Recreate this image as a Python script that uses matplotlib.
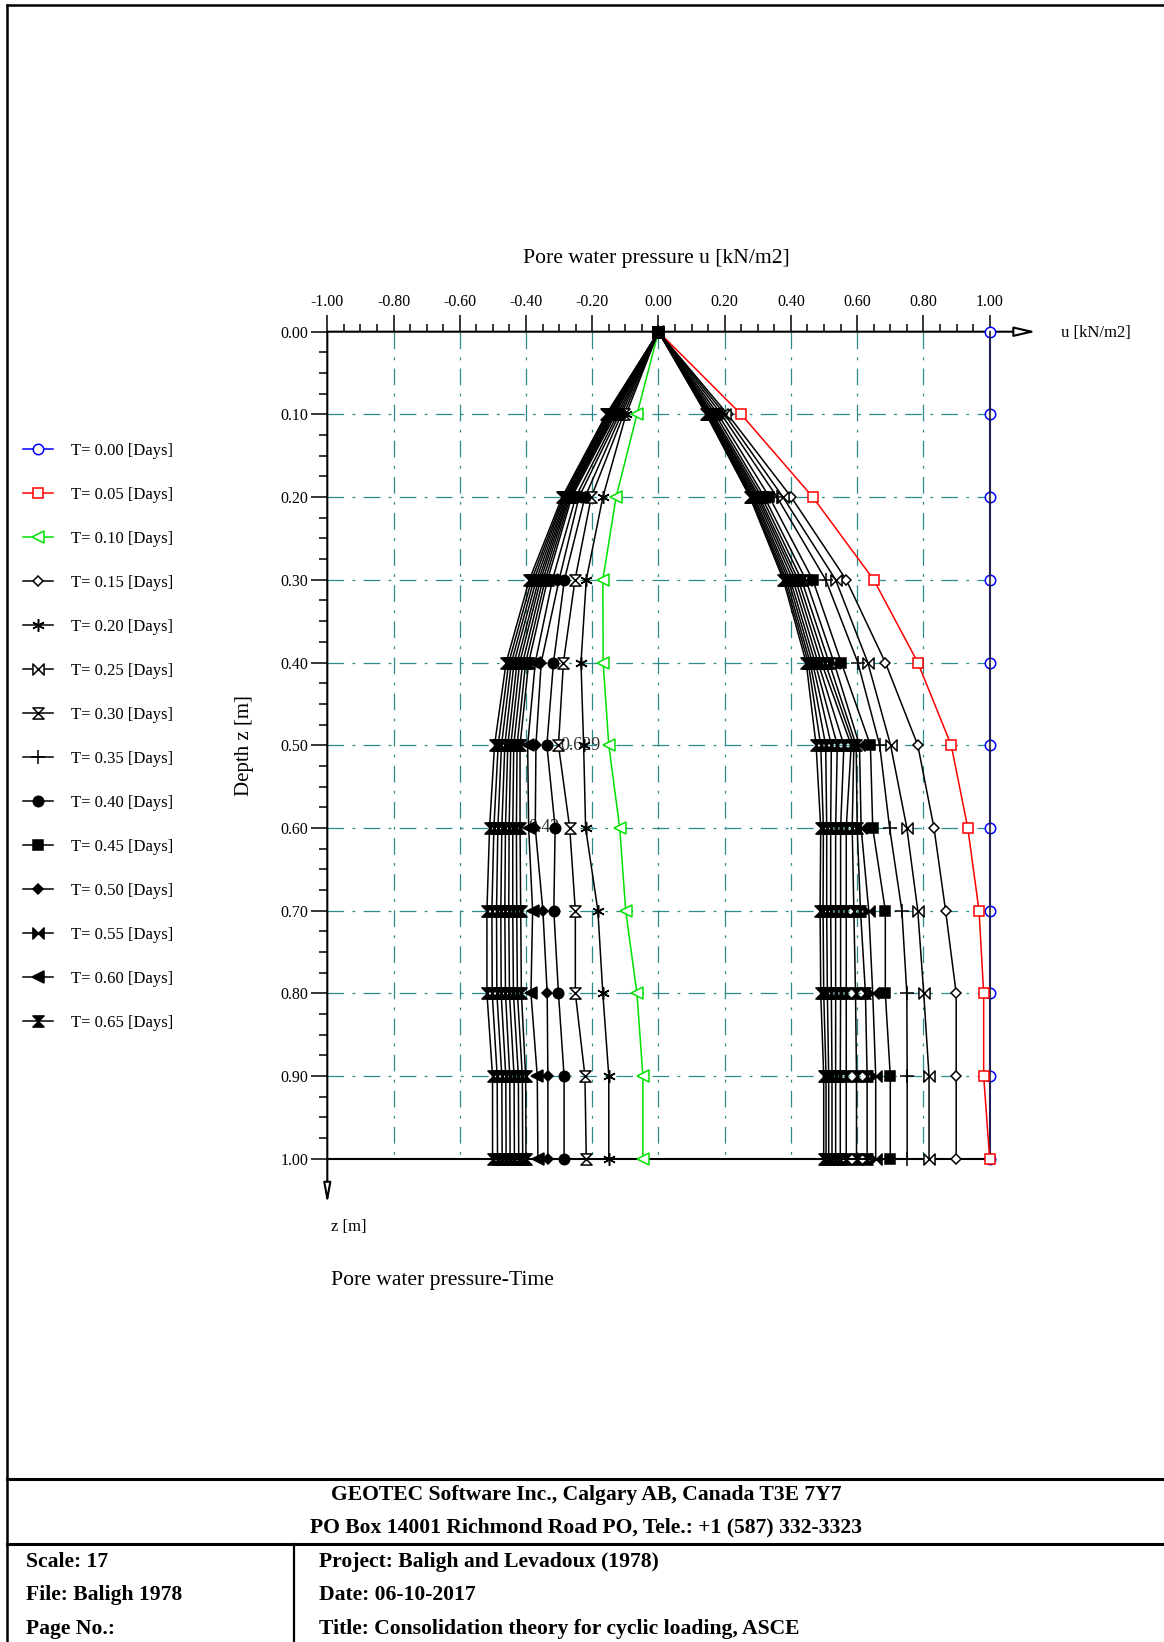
import matplotlib
matplotlib.use("Agg")
import matplotlib.pyplot as plt
from matplotlib.path import Path
from matplotlib.lines import Line2D

plt.rcParams["font.family"] = ["Liberation Serif", "DejaVu Serif"]
plt.rcParams["lines.scale_dashes"] = False

# ---------------------------------------------------------------- data
depth = [0.0, 0.1, 0.2, 0.3, 0.4, 0.5, 0.6, 0.7, 0.8, 0.9, 1.0]

times = [0.00, 0.05, 0.10, 0.15, 0.20, 0.25, 0.30, 0.35, 0.40, 0.45, 0.50,
         0.55, 0.60, 0.65, 0.70, 0.75, 0.80, 0.85, 0.90, 0.95, 1.00, 1.05,
         1.10, 1.15, 1.20, 1.25, 1.30, 1.35, 1.40, 1.45, 1.50]

# pore pressure profiles u(z) for each time step [kN/m2]
u_000 = [1.0, 1.0, 1.0, 1.0, 1.0, 1.0, 1.0, 1.0, 1.0, 1.0, 1.0]
u_005 = [0, 0.250, 0.466, 0.650, 0.783, 0.884, 0.934, 0.968, 0.982, 0.982, 1.000]
u_010 = [0, -0.065, -0.128, -0.168, -0.167, -0.150, -0.117, -0.099, -0.065, -0.047, -0.047]
u_015 = [0, 0.209, 0.401, 0.567, 0.685, 0.783, 0.832, 0.867, 0.899, 0.899, 0.899]
u_020 = [0, -0.098, -0.168, -0.218, -0.234, -0.226, -0.220, -0.183, -0.168, -0.150, -0.150]
u_025 = [0, 0.200, 0.376, 0.535, 0.632, 0.701, 0.750, 0.783, 0.801, 0.817, 0.817]
u_030 = [0, -0.105, -0.203, -0.252, -0.287, -0.302, -0.268, -0.251, -0.251, -0.222, -0.218]
u_035 = [0, 0.190, 0.358, 0.505, 0.602, 0.668, 0.698, 0.735, 0.750, 0.751, 0.751]
u_040 = [0, -0.112, -0.222, -0.284, -0.317, -0.337, -0.312, -0.316, -0.302, -0.285, -0.285]
u_045 = [0, 0.180, 0.335, 0.466, 0.552, 0.640, 0.647, 0.685, 0.685, 0.700, 0.700]
u_050 = [0, -0.118, -0.240, -0.300, -0.354, -0.370, -0.372, -0.349, -0.336, -0.334, -0.334]
u_055 = [0, 0.172, 0.320, 0.445, 0.530, 0.607, 0.612, 0.635, 0.647, 0.656, 0.656]
u_060 = [0, -0.124, -0.250, -0.320, -0.372, -0.395, -0.392, -0.380, -0.385, -0.366, -0.364]
u_065 = [0, 0.165, 0.312, 0.432, 0.515, 0.597, 0.600, 0.610, 0.625, 0.630, 0.630]
u_070 = [0, -0.130, -0.262, -0.335, -0.392, -0.418, -0.418, -0.416, -0.414, -0.401, -0.400]
u_075 = [0, 0.161, 0.305, 0.422, 0.503, 0.590, 0.585, 0.590, 0.595, 0.598, 0.598]
u_080 = [0, -0.134, -0.266, -0.342, -0.401, -0.427, -0.429, -0.428, -0.426, -0.411, -0.410]
u_085 = [0, 0.158, 0.300, 0.414, 0.492, 0.582, 0.567, 0.567, 0.567, 0.567, 0.567]
u_090 = [0, -0.137, -0.270, -0.349, -0.410, -0.437, -0.440, -0.440, -0.438, -0.423, -0.422]
u_095 = [0, 0.155, 0.295, 0.406, 0.482, 0.560, 0.550, 0.550, 0.550, 0.549, 0.549]
u_100 = [0, -0.141, -0.273, -0.356, -0.419, -0.446, -0.451, -0.452, -0.450, -0.436, -0.435]
u_105 = [0, 0.152, 0.290, 0.398, 0.473, 0.540, 0.535, 0.535, 0.535, 0.535, 0.535]
u_110 = [0, -0.144, -0.277, -0.362, -0.427, -0.455, -0.462, -0.464, -0.462, -0.449, -0.448]
u_115 = [0, 0.150, 0.286, 0.392, 0.465, 0.522, 0.520, 0.520, 0.522, 0.524, 0.524]
u_120 = [0, -0.148, -0.280, -0.369, -0.436, -0.464, -0.473, -0.476, -0.475, -0.461, -0.460]
u_125 = [0, 0.148, 0.282, 0.386, 0.458, 0.505, 0.508, 0.508, 0.510, 0.514, 0.514]
u_130 = [0, -0.151, -0.284, -0.376, -0.444, -0.474, -0.485, -0.489, -0.488, -0.473, -0.472]
u_135 = [0, 0.146, 0.279, 0.381, 0.452, 0.490, 0.498, 0.497, 0.499, 0.506, 0.506]
u_140 = [0, -0.155, -0.287, -0.383, -0.452, -0.484, -0.497, -0.503, -0.502, -0.487, -0.486]
u_145 = [0, 0.144, 0.276, 0.377, 0.446, 0.476, 0.490, 0.488, 0.490, 0.499, 0.499]
u_150 = [0, -0.158, -0.291, -0.390, -0.460, -0.495, -0.510, -0.518, -0.518, -0.501, -0.501]

profiles = [u_000, u_005, u_010, u_015, u_020, u_025, u_030, u_035, u_040,
            u_045, u_050, u_055, u_060, u_065, u_070, u_075, u_080, u_085,
            u_090, u_095, u_100, u_105, u_110, u_115, u_120, u_125, u_130,
            u_135, u_140, u_145, u_150]

# probe values printed on the graph
probe_labels = ["0.629", "0.42"]
probe_u = [-0.296, -0.392]
probe_z = [0.5, 0.6]

u_major = [-1.0, -0.8, -0.6, -0.4, -0.2, 0.0, 0.2, 0.4, 0.6, 0.8, 1.0]
z_major = [0.0, 0.1, 0.2, 0.3, 0.4, 0.5, 0.6, 0.7, 0.8, 0.9, 1.0]
LEGEND_COUNT = 14

# ---------------------------------------------------------------- layout
W, H = 1164, 1642
U_MIN, U_MAX, U_END = -1.0, 1.0, 1.14
Z_MAX, Z_END = 1.0, 1.055


def fx(px):
    return px / W


def fy(py):
    return 1.0 - py / H


fig = plt.figure(figsize=(W / 100, H / 100), dpi=100)
fig.patch.set_facecolor("white")

ax_left, ax_right = 327.3, 1036.0
ax_top, ax_bottom = 331.7, 1204.2
ax = fig.add_axes([fx(ax_left), fy(ax_bottom),
                   (ax_right - ax_left) / W, (ax_bottom - ax_top) / H])
ax.set_xlim(U_MIN, U_END)
ax.set_ylim(Z_END, 0.0)
for sp in ax.spines.values():
    sp.set_visible(False)
ax.patch.set_alpha(0)

# ticks
u_minor = [round(-1.0 + 0.05 * i, 2) for i in range(41)]
z_minor = [round(0.025 * i, 3) for i in range(41)]
ax.xaxis.tick_top()
ax.set_xticks(u_major)
ax.set_xticklabels([f"{v:.2f}" for v in u_major])
ax.set_xticks(u_minor, minor=True)
ax.set_yticks(z_major)
ax.set_yticklabels([f"{v:.2f}" for v in z_major])
ax.set_yticks(z_minor, minor=True)
ax.tick_params(axis="x", which="major", direction="out", length=12, width=1.1,
               pad=3.5, labelsize=11.5, top=True, bottom=False,
               labeltop=True, labelbottom=False)
ax.tick_params(axis="x", which="minor", direction="out", length=6, width=1.1,
               top=True, bottom=False)
ax.tick_params(axis="y", which="major", direction="out", length=11.5, width=1.1,
               pad=2.0, labelsize=11.5)
ax.tick_params(axis="y", which="minor", direction="out", length=5.5, width=1.1)

# grid
grid_style = dict(color="#2a8c8c", lw=0.9, linestyle=(0, (12, 6, 2, 6)), zorder=1)
ax.vlines(u_major[1:-1], 0.0, Z_MAX, **grid_style)
ax.hlines(z_major[1:-1], U_MIN, U_MAX, **grid_style)

# axis lines with arrows
ax.annotate("", xy=(U_END, 0.0), xytext=(U_MIN, 0.0),
            arrowprops=dict(arrowstyle="-|>,head_length=1.3,head_width=0.3",
                            fc="white", ec="black", lw=1.5,
                            shrinkA=0, shrinkB=0), annotation_clip=False)
ax.annotate("", xy=(U_MIN, Z_END), xytext=(U_MIN, 0.0),
            arrowprops=dict(arrowstyle="-|>,head_length=1.2,head_width=0.22",
                            fc="white", ec="black", lw=1.5,
                            shrinkA=0, shrinkB=0), annotation_clip=False)
# base of the layer
ax.hlines(Z_MAX, U_MIN, U_MAX, color="black", lw=1.5, zorder=2)

# markers
BOWTIE = Path([(-1, -1), (1, 1), (1, -1), (-1, 1), (-1, -1)],
              [Path.MOVETO, Path.LINETO, Path.LINETO, Path.LINETO, Path.CLOSEPOLY])
HOURGLASS = Path([(-1, 1), (1, 1), (-1, -1), (1, -1), (-1, 1)],
                 [Path.MOVETO, Path.LINETO, Path.LINETO, Path.LINETO, Path.CLOSEPOLY])

marker_styles = [
    ("o", False, 7.5), ("s", False, 7.0), ("<", False, 8.0), ("D", False, 5.5),
    ((6, 2, 0), False, 9.0), (BOWTIE, False, 8.0), (HOURGLASS, False, 8.0),
    ("+", False, 10.0), ("o", True, 7.5), ("s", True, 7.0), ("D", True, 5.5),
    (BOWTIE, True, 8.0), ("<", True, 8.0), (HOURGLASS, True, 8.0),
]
series_colors = {0: "blue", 1: "red", 2: "#00e000"}

lines = []
for i, (t, u) in enumerate(zip(times, profiles)):
    # once the style list runs out, the last style is reused
    mk, filled, ms = marker_styles[min(i, len(marker_styles) - 1)]
    col = series_colors.get(i, "black")
    ln, = ax.plot(u, depth, color=col, lw=1.1, marker=mk, markersize=ms,
                  markerfacecolor=col if filled else "white",
                  markeredgecolor=col, markeredgewidth=1.1,
                  clip_on=False, zorder=3 + i * 0.01,
                  label=f"T= {t:.2f} [Days]")
    lines.append(ln)
# boundary line at the initial pressure, drawn over the T=0 profile
ax.plot(u_000, depth, color="#1c1c3c", lw=1.5, alpha=0.85, zorder=3.005,
        clip_on=False)

for lab, pu, pz in zip(probe_labels, probe_u, probe_z):
    ax.text(pu, pz, lab, color="#303030", fontsize=13, ha="left",
            va="center", zorder=2.5)

# labels
fig.text(fx(656), fy(259), "Pore water pressure u [kN/m2]", fontsize=15.6,
         ha="center", va="center")
fig.text(fx(1061), fy(333), "u [kN/m2]", fontsize=12, ha="left", va="center")
fig.text(fx(244), fy(746), "Depth z [m]", fontsize=15, rotation=90,
         ha="center", va="center")
fig.text(fx(331), fy(1227), "z [m]", fontsize=12, ha="left", va="center")
fig.text(fx(331), fy(1281), "Pore water pressure-Time", fontsize=15.6,
         ha="left", va="center")

# legend
fig.legend(handles=lines[:LEGEND_COUNT], loc="upper left",
           bbox_to_anchor=(fx(23), fy(443)), frameon=False, fontsize=12,
           handlelength=1.8, handletextpad=1.1, labelspacing=1.68,
           borderpad=0, borderaxespad=0, numpoints=1)

# page frame and title block
frame = dict(color="black", transform=fig.transFigure)
fig.add_artist(Line2D([fx(7), fx(7)], [fy(5), fy(H)], lw=1.8, **frame))
fig.add_artist(Line2D([fx(7), fx(W)], [fy(5), fy(5)], lw=1.8, **frame))
fig.add_artist(Line2D([fx(7), fx(W)], [fy(1479), fy(1479)], lw=2.2, **frame))
fig.add_artist(Line2D([fx(7), fx(W)], [fy(1544), fy(1544)], lw=2.2, **frame))
fig.add_artist(Line2D([fx(294), fx(294)], [fy(1544), fy(H)], lw=1.6, **frame))

block = dict(fontsize=15.6, fontweight="bold", va="center")
fig.text(fx(586), fy(1495), "GEOTEC Software Inc., Calgary AB, Canada T3E 7Y7",
         ha="center", **block)
fig.text(fx(586), fy(1527), "PO Box 14001 Richmond Road PO, Tele.: +1 (587) 332-3323",
         ha="center", **block)
fig.text(fx(26), fy(1562), "Scale: 17", ha="left", **block)
fig.text(fx(26), fy(1595), "File: Baligh 1978", ha="left", **block)
fig.text(fx(26), fy(1629), "Page No.:", ha="left", **block)
fig.text(fx(319), fy(1562), "Project: Baligh and Levadoux (1978)", ha="left", **block)
fig.text(fx(319), fy(1595), "Date: 06-10-2017", ha="left", **block)
fig.text(fx(319), fy(1629), "Title: Consolidation theory for cyclic loading, ASCE",
         ha="left", **block)

fig.savefig("out.png", dpi=100, facecolor="white")
